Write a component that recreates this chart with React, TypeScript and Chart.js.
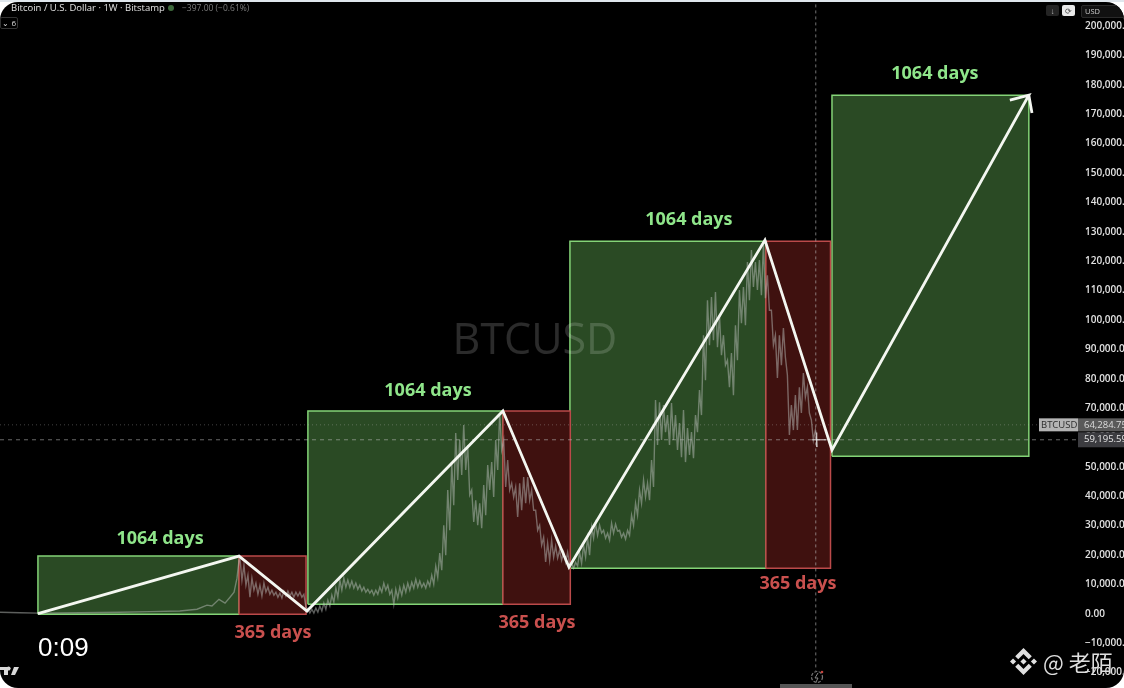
import React, { useEffect, useRef } from "react";
import { Chart, registerables } from "chart.js";

Chart.register(...registerables);

// ---- time axis is in days from the left edge of the chart; prices in USD ----
const axisMaxDay = 5854;
const axisMaxPrice = 208900;
const axisMinPrice = -25300;
const tickValues = [
  200000, 190000, 180000, 170000, 160000, 150000, 140000, 130000, 120000, 110000, 100000, 90000, 80000, 70000, 60000,
  50000, 40000, 30000, 20000, 10000, 0, -10000, -20000,
];

// Rise boxes ("1064 days")
const riseStart = [206, 1672, 3095, 4518];
const riseEnd = [1298, 2731, 4159, 5587];
const riseLow = [-200, 3200, 15500, 53600];
const riseHigh = [19600, 69000, 126800, 176500];
const riseLabelDay = [869, 2324, 3741, 5077];
const riseLabelPrice = [25600, 75700, 134200, 183900];
const riseLabel = "1064 days";

// Fall boxes ("365 days")
const fallStart = [1298, 2731, 4159];
const fallEnd = [1662, 3097, 4510];
const fallLow = [-200, 3200, 15500];
const fallHigh = [19600, 69000, 126800];
const fallLabelDay = [1482, 2916, 4333];
const fallLabelPrice = [-6400, -3000, 10300];
const fallLabel = "365 days";

// White cycle path
const pathDays = [206, 1298, 1667, 2731, 3090, 4154, 4518, 5587, 5484, 5587, 5604];
const pathPrice = [0, 19600, 900, 69000, 15800, 127200, 55700, 176500, 174800, 176500, 170400];

// Early price history (thousand USD)
const earlyDays = [0, 109, 206, 434, 652, 815, 977, 1070, 1124, 1151, 1189, 1222, 1249, 1271, 1287, 1298];
const earlyPrice = [0.5, 0.3, 0.2, 0.3, 0.5, 0.7, 0.9, 1.5, 2.9, 2.6, 4.9, 3.6, 5.6, 7.3, 12.1, 18.2];

// Candle range per sample (thousand USD), one sample per traceStepDays
const traceStartDay = 1303;
const traceStepDays = 21.7;
const traceHigh = [
  18.9, 16.5, 13.1, 12.1, 10.4, 9.7, 10.4, 9.0, 8.0, 7.3, 7.0, 7.7, 7.7, 7.3, 7.3, 7.3, 6.6,
  1.5, 1.5, 1.9, 2.6, 3.6, 4.6, 6.3, 8.7, 11.4, 12.1, 11.4, 11.1, 10.4, 9.7, 9.0, 8.3, 8.0, 8.0, 9.0, 10.4, 9.7, 8.0, 8.3, 9.0, 9.7, 10.4, 10.7, 11.7, 11.1, 10.4, 11.1, 13.1, 16.2, 20.6, 30.1, 42.1, 51.2, 61.5, 59.1, 64.2, 57.4, 42.1, 38.6, 37.6, 43.8, 50.6, 51.6, 59.1, 68.3,
  59.1, 52.3, 44.4, 43.1, 44.4, 46.5, 46.5, 42.1, 35.2, 30.1, 26.0, 24.0, 25.0, 23.0, 21.6, 20.9, 20.9,
  17.2, 17.5, 20.9, 23.3, 25.7, 29.5, 30.8, 30.1, 28.4, 27.4, 30.8, 30.5, 28.4, 27.4, 28.4, 33.5, 37.6, 42.1, 45.5, 44.4, 52.3, 72.7, 72.0, 71.0, 67.6, 71.7, 67.6, 64.9, 69.3, 63.2, 61.8, 67.6, 76.1, 94.8, 106.7, 107.8, 109.5, 101.6, 94.8, 86.3, 88.7, 98.2, 110.2, 111.2, 119.7, 123.8, 119.7, 120.4, 125.5,
  115.2, 103.3, 94.8, 94.8, 97.2, 81.2, 71.0, 74.4, 77.1, 81.9, 77.1, 65.9, 62.5,
];
const traceLow = [
  11.4, 9.7, 5.6, 8.0, 6.6, 6.0, 7.3, 6.6, 6.3, 5.6, 5.3, 6.0, 6.0, 5.6, 6.0, 5.6, 2.2,
  0.2, 0.2, 0.5, 0.9, 1.5, 2.6, 3.9, 5.6, 8.0, 9.0, 9.0, 8.7, 8.3, 7.7, 7.3, 7.0, 6.3, 6.6, 7.3, 8.0, 6.6, 3.2, 5.3, 6.3, 7.3, 8.0, 8.7, 9.0, 9.0, 8.7, 9.4, 10.0, 12.4, 14.8, 19.9, 28.4, 36.9, 45.5, 47.2, 48.9, 40.4, 31.2, 30.1, 29.1, 33.5, 42.1, 39.7, 48.9, 55.7,
  43.1, 42.1, 39.7, 32.9, 35.2, 37.6, 38.6, 35.2, 28.4, 23.3, 17.6, 18.2, 19.2, 18.9, 18.2, 17.5, 16.5,
  15.5, 16.2, 17.2, 19.2, 19.9, 25.7, 26.7, 27.4, 25.7, 25.0, 27.4, 28.1, 26.0, 25.4, 26.7, 30.1, 33.5, 37.6, 39.7, 38.6, 43.1, 57.4, 59.1, 61.8, 57.4, 59.1, 55.7, 53.3, 51.6, 54.0, 52.9, 61.8, 67.6, 79.5, 91.4, 93.1, 90.7, 88.0, 84.6, 77.1, 74.4, 86.3, 98.9, 98.2, 106.7, 111.2, 110.2, 108.4, 107.4,
  103.3, 91.4, 80.2, 84.6, 87.3, 60.8, 62.5, 62.5, 68.3, 73.7, 68.3, 59.1, 56.7,
];

// Last price markers
const lastPriceValue = 64284.75;
const crossPriceValue = 59195.59;
const cursorDay = 4430;
const symbolName = "BTCUSD";
const watermarkDay = 2905;
const watermarkPrice = 92700;

const FONT_UI = '"Open Sans", "Noto Sans", sans-serif';

const fmt = (v: number) =>
  (v < 0 ? "\u2212" : "") +
  Math.abs(v).toLocaleString("en-US", { minimumFractionDigits: 2, maximumFractionDigits: 2 });

function boxDatasets(start: number, end: number, low: number, high: number, fill: string, stroke: string) {
  return [
    {
      data: [{ x: start, y: low }, { x: start, y: high }, { x: end, y: high }, { x: end, y: low }, { x: start, y: low }],
      borderColor: stroke,
      borderWidth: 1.5,
      pointRadius: 0,
      fill: false,
    },
    {
      data: [{ x: start, y: high }, { x: end, y: high }],
      borderColor: "rgba(0,0,0,0)",
      borderWidth: 0,
      backgroundColor: fill,
      pointRadius: 0,
      fill: { value: low },
    },
  ];
}

function candleTrace() {
  const pts: { x: number; y: number }[] = earlyDays.map((d, i) => ({ x: d, y: earlyPrice[i] * 1000 }));
  traceHigh.forEach((h, i) => {
    const x = traceStartDay + i * traceStepDays;
    pts.push({ x, y: h * 1000 });
    pts.push({ x: x + traceStepDays / 2, y: traceLow[i] * 1000 });
  });
  return pts;
}

const annotations = {
  id: "annotations",
  afterDatasetsDraw(chart: any) {
    const { ctx, scales } = chart;
    const x = scales.x;
    const y = scales.y;
    ctx.save();
    ctx.textAlign = "center";
    ctx.textBaseline = "middle";
    ctx.font = `500 43px ${FONT_UI}`;
    ctx.fillStyle = "rgba(255,255,255,0.17)";
    ctx.fillText(symbolName, x.getPixelForValue(watermarkDay), y.getPixelForValue(watermarkPrice));
    ctx.font = `700 18px ${FONT_UI}`;
    ctx.fillStyle = "#8fe58a";
    riseLabelDay.forEach((d, i) => ctx.fillText(riseLabel, x.getPixelForValue(d), y.getPixelForValue(riseLabelPrice[i])));
    ctx.fillStyle = "#c9504e";
    fallLabelDay.forEach((d, i) => ctx.fillText(fallLabel, x.getPixelForValue(d), y.getPixelForValue(fallLabelPrice[i])));
    ctx.restore();
  },
  afterDraw(chart: any) {
    const { ctx, scales, chartArea } = chart;
    const y = scales.y;
    const right = chartArea.right;
    ctx.save();
    ctx.textBaseline = "middle";
    ctx.font = `500 9.5px ${FONT_UI}`;
    const py = y.getPixelForValue(lastPriceValue);
    ctx.fillStyle = "#b4b4b4";
    ctx.fillRect(right - 39, py - 6.5, 39, 13);
    ctx.fillStyle = "#2c2c2c";
    ctx.fillText(symbolName, right - 37, py);
    ctx.fillStyle = "#5a5a5a";
    ctx.fillRect(right, py - 6.5, 46, 13);
    ctx.fillStyle = "#dcdcdc";
    ctx.fillText(fmt(lastPriceValue), right + 6, py);
    const cy = y.getPixelForValue(crossPriceValue);
    ctx.fillStyle = "#3c3c40";
    ctx.fillRect(right, cy - 7.5, 46, 15);
    ctx.fillStyle = "#e6e6e6";
    ctx.fillText(fmt(crossPriceValue), right + 6, cy);
    ctx.restore();
  },
};

function makeDatasets() {
  const sets: any[] = [
    {
      data: pathDays.map((d, i) => ({ x: d, y: pathPrice[i] })),
      borderColor: "#f4f7f1",
      borderWidth: 2.8,
      pointRadius: 0,
      fill: false,
      borderJoinStyle: "miter",
    },
    {
      data: [{ x: cursorDay - 20, y: crossPriceValue }, { x: cursorDay + 55, y: crossPriceValue }],
      borderColor: "rgba(235,235,235,0.8)",
      borderWidth: 1.2,
      pointRadius: 0,
      fill: false,
    },
    {
      data: [{ x: cursorDay + 5, y: crossPriceValue + 2500 }, { x: cursorDay + 5, y: crossPriceValue - 2500 }],
      borderColor: "rgba(235,235,235,0.8)",
      borderWidth: 1.2,
      pointRadius: 0,
      fill: false,
    },
    {
      data: [{ x: cursorDay, y: axisMaxPrice - 1500 }, { x: cursorDay, y: -19500 }],
      borderColor: "rgba(190,190,190,0.6)",
      borderWidth: 1,
      borderDash: [3, 3],
      pointRadius: 0,
      fill: false,
    },
    {
      data: [{ x: 0, y: crossPriceValue }, { x: axisMaxDay, y: crossPriceValue }],
      borderColor: "rgba(190,190,190,0.55)",
      borderWidth: 1,
      borderDash: [4, 4],
      pointRadius: 0,
      fill: false,
    },
    {
      data: [{ x: 0, y: lastPriceValue }, { x: axisMaxDay - 215, y: lastPriceValue }],
      borderColor: "rgba(190,190,190,0.35)",
      borderWidth: 1,
      borderDash: [1, 3],
      pointRadius: 0,
      fill: false,
    },
    {
      data: candleTrace(),
      borderColor: "rgba(185,190,185,0.5)",
      borderWidth: 1.4,
      pointRadius: 0,
      fill: false,
    },
  ];
  fallStart.forEach((s, i) => sets.push(...boxDatasets(s, fallEnd[i], fallLow[i], fallHigh[i], "#3f110f", "#bb4a4a")));
  riseStart.forEach((s, i) => sets.push(...boxDatasets(s, riseEnd[i], riseLow[i], riseHigh[i], "#2a4a24", "#84d477")));
  return sets;
}

const abs = (s: React.CSSProperties): React.CSSProperties => ({ position: "absolute", whiteSpace: "nowrap", ...s });

export default function App() {
  const ref = useRef<HTMLCanvasElement | null>(null);
  useEffect(() => {
    const chart = new Chart(ref.current as HTMLCanvasElement, {
      type: "line",
      data: { datasets: makeDatasets() },
      plugins: [annotations],
      options: {
        animation: false,
        responsive: false,
        devicePixelRatio: 1,
        layout: { padding: 0 },
        plugins: { legend: { display: false }, tooltip: { enabled: false } },
        elements: { line: { tension: 0 } },
        scales: {
          x: { type: "linear", min: 0, max: axisMaxDay, display: false },
          y: {
            type: "linear",
            position: "right",
            min: axisMinPrice,
            max: axisMaxPrice,
            grid: { display: false, drawTicks: false },
            border: { display: false },
            afterBuildTicks: (s: any) => {
              s.ticks = tickValues.map((value) => ({ value }));
            },
            afterFit: (s: any) => {
              s.width = 46;
              s.paddingTop = 0;
              s.paddingBottom = 0;
            },
            ticks: {
              autoSkip: false,
              padding: 7,
              color: "#e2e2e2",
              font: { family: FONT_UI, size: 10, weight: "600" },
              callback: (v: any) => fmt(Number(v)),
            },
          },
        },
      },
    } as any);
    return () => chart.destroy();
  }, []);

  return (
    <div style={{ position: "fixed", inset: 0, background: "#fff", overflow: "hidden" }}>
      <div style={{ position: "absolute", left: 0, top: 0, width: 1124, height: 2, background: "#dfe6ec" }} />
      <div
        style={{
          position: "absolute",
          left: 0,
          top: 2,
          width: 1124,
          height: 686,
          background: "#000",
          borderRadius: 18,
          overflow: "hidden",
        }}
      >
        <canvas ref={ref} width={1124} height={688} style={{ position: "absolute", left: 0, top: -2, display: "block" }} />
        <div style={abs({ left: 11, top: -1, font: `500 9.5px ${FONT_UI}`, color: "#e4e4e4", lineHeight: "14px" })}>
          Bitcoin / U.S. Dollar · 1W · Bitstamp
        </div>
        <div style={abs({ left: 168, top: 3, width: 6, height: 6, borderRadius: 3, background: "#3e6a3c" })} />
        <div style={abs({ left: 182, top: -1, font: `400 8.5px ${FONT_UI}`, color: "#7c7c7c", lineHeight: "14px" })}>
          −397.00 (−0.61%)
        </div>
        <div
          style={abs({
            left: 0,
            top: 15,
            width: 15,
            height: 10,
            border: "1px solid #333",
            borderRadius: 2,
            font: `500 8px ${FONT_UI}`,
            color: "#ddd",
            lineHeight: "10px",
            textAlign: "right",
            paddingRight: 1,
            boxSizing: "content-box",
          })}
        >
          ⌄ 6
        </div>
        <div style={abs({ left: 1046, top: 3, width: 13, height: 11, background: "#242424", borderRadius: 2, color: "#bbb", font: `400 8px ${FONT_UI}`, lineHeight: "11px", textAlign: "center" })}>↓</div>
        <div style={abs({ left: 1062, top: 3, width: 13, height: 11, background: "#e8e8e8", borderRadius: 2, color: "#444", font: `400 8px ${FONT_UI}`, lineHeight: "11px", textAlign: "center" })}>⟳</div>
        <div style={abs({ left: 1081, top: 3, width: 40, height: 11, background: "#111", border: "1px solid #2a2a2a", borderRadius: 2, color: "#ccc", font: `500 7.5px ${FONT_UI}`, lineHeight: "11px", paddingLeft: 3 })}>USD</div>
        <div style={abs({ left: 38, top: 630, font: `400 26px "Liberation Sans", Arial, sans-serif`, color: "#fff", lineHeight: "30px" })}>0:09</div>
        <svg style={{ position: "absolute", left: 1010, top: 646 }} width="27" height="27" viewBox="0 0 126.61 126.61">
          <path fill="#e0e0e0" d="M38.73 53.2l24.59-24.58 24.6 24.6 14.3-14.31L63.32 0 24.42 38.9l14.31 14.3zM0 63.31l14.3-14.31 14.31 14.31-14.31 14.3zM38.73 73.41l24.59 24.59 24.6-24.6 14.31 14.29-.01.01-38.9 38.9-38.9-38.88-.02-.02zM98 63.31l14.3-14.31 14.31 14.3-14.31 14.32zM77.83 63.3L63.32 48.78 52.59 59.51l-1.24 1.23-2.54 2.54 14.51 14.5 14.51-14.51z" />
        </svg>
        <div style={abs({ left: 1043, top: 644, font: `400 22px "Noto Sans CJK SC", "Noto Sans", sans-serif`, color: "#dedede", lineHeight: "30px" })}>@ 老陌</div>
        <svg style={{ position: "absolute", left: 0, top: 663 }} width="20" height="14" viewBox="0 0 20 14">
          <path fill="#d8d8d8" d="M0 2h8v8H4V5H0zM10 5a2 2 0 1 1 0-3 2 2 0 0 1 0 3zM14 2h5l-4 8h-4z" />
        </svg>
        <svg style={{ position: "absolute", left: 808, top: 667 }} width="18" height="16" viewBox="0 0 18 16">
          <circle cx="9" cy="8" r="5.5" fill="none" stroke="#777" strokeWidth="1.2" strokeDasharray="3 1.5" />
          <path d="M10 4 7 9h3l-2 4" fill="none" stroke="#888" strokeWidth="1" />
          <circle cx="14" cy="3" r="1.3" fill="#c5443e" />
        </svg>
        <div style={abs({ left: 780, top: 682, width: 72, height: 6, background: "#555" })} />
      </div>
    </div>
  );
}
